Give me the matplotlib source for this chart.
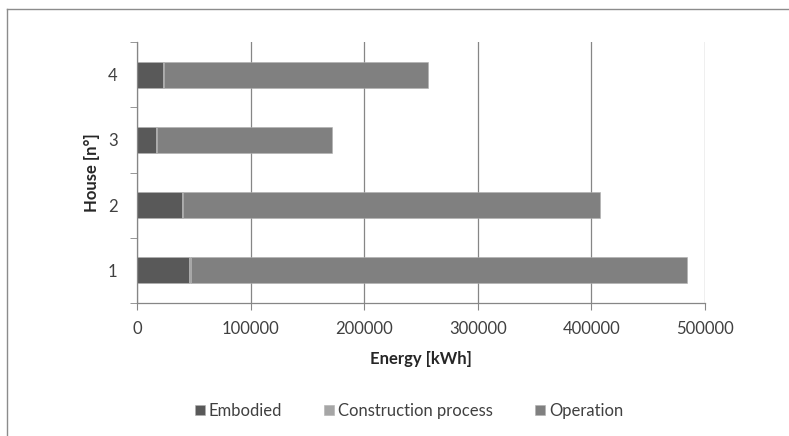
import matplotlib
matplotlib.use("Agg")
import matplotlib.pyplot as plt
import numpy as np

plt.rcParams['font.family'] = ['Lato', 'DejaVu Sans']

houses = ["1", "2", "3", "4"]
embodied = [46000, 39300, 16500, 22600]
construction = [1500, 1200, 700, 900]
operation = [436500, 367100, 154500, 232500]
x_ticks = [0, 100000, 200000, 300000, 400000, 500000]

colors = {"Embodied": "#595959", "Construction process": "#a6a6a6", "Operation": "#808080"}

fig = plt.figure(figsize=(7.89, 4.36), dpi=100)
fig.patch.set_facecolor("white")

# outer frame of the chart area
fig.add_artist(plt.Line2D([7/789, 7/789], [0, 1 - 9/436], transform=fig.transFigure,
                          color="#8c8c8c", lw=1.0))
fig.add_artist(plt.Line2D([7/789, 1], [1 - 9/436, 1 - 9/436], transform=fig.transFigure,
                          color="#8c8c8c", lw=1.0))

ax = fig.add_axes([137/789, 1 - 303/436, 568/789, 261/436])

y = np.arange(1, len(houses) + 1)
h = 0.4
left = np.zeros(len(houses))
for name, vals in [("Embodied", embodied), ("Construction process", construction),
                   ("Operation", operation)]:
    ax.barh(y, vals, height=h, left=left, color=colors[name], label=name,
            edgecolor="#b0b0b0", linewidth=0.4)
    left = left + np.array(vals)

ax.set_xlim(0, 500000)
ax.set_ylim(0.5, len(houses) + 0.5)
ax.set_xticks(x_ticks)
ax.set_xticklabels([str(v) for v in x_ticks])
ax.set_yticks(y)
ax.set_yticklabels(houses)
ax.set_yticks(np.arange(0.5, len(houses) + 1), minor=True)
ax.tick_params(axis="y", which="major", length=0, pad=14, labelsize=12, labelcolor="#404040")
ax.tick_params(axis="y", which="minor", length=5, color="#868686")
ax.tick_params(axis="x", length=5, color="#868686", labelsize=12, labelcolor="#404040", pad=8)

ax.grid(axis="x", color="#868686", lw=0.9)
ax.set_axisbelow(True)
for s in ["top", "right"]:
    ax.spines[s].set_visible(False)
for s in ["left", "bottom"]:
    ax.spines[s].set_color("#868686")
    ax.spines[s].set_linewidth(0.9)

ax.set_xlabel("Energy [kWh]", fontsize=12, fontweight="bold", color="#262626", labelpad=10)
ax.set_ylabel("House [n°]", fontsize=12, fontweight="bold", color="#262626", labelpad=6)

fig.legend(loc="center", bbox_to_anchor=(409/789, 1 - 411/436), ncol=3, frameon=False,
           fontsize=12, handlelength=0.6, handleheight=0.6, handletextpad=0.25,
           columnspacing=2.5, labelcolor="#404040")

fig.savefig("out.png", dpi=100, facecolor="white")
